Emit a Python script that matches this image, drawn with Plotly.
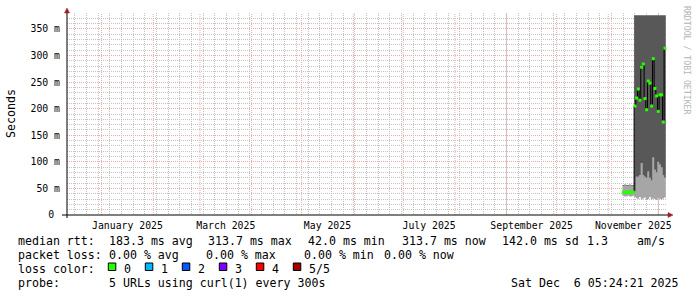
import plotly.graph_objects as go
import pandas as pd

# ---------------- data ----------------
x_start = "2024-12-11 05:24:21"
x_end = "2025-12-06 05:24:21"
step_start = "2025-11-09 12:00"

median_ms = [43, 43, 42, 43, 43, 43, 43,
             205, 220, 237, 216, 278, 284, 219, 198, 252, 248, 205, 294,
             238, 224, 195, 226, 226, 175, 313.7]
smoke_lo = [36, 35, 35, 36, 35, 35, 36,
            34, 32, 30, 34, 29, 31, 33, 28, 30, 34, 29, 31,
            30, 28, 32, 30, 29, 31, 33]
smoke_mid = [55, 56, 55, 55, 56, 55, 55,
             44, 72, 72, 75, 98, 75, 72, 70, 82, 70, 65, 108,
             85, 80, 100, 95, 90, 75, 70]
smoke_hi = [56.5, 57.5, 56.5, 56.5, 57.5, 56.5, 56.5,
            376, 376, 376, 376, 376, 376, 376, 376, 376, 376, 376, 376,
            376, 376, 376, 376, 376, 376, 376]

y_tickvals = [0, 50, 100, 150, 200, 250, 300, 350]
y_ticktext = ["0\u00a0", "50 m", "100 m", "150 m", "200 m", "250 m", "300 m", "350 m"]

label_months = ["2025-01", "2025-03", "2025-05", "2025-07", "2025-09", "2025-11"]
label_text = ["January 2025", "March 2025", "May 2025", "July 2025",
              "September 2025", "November 2025"]
grid_months = pd.date_range("2025-01-01", "2025-12-01", freq="MS")

loss_labels = ["0", "1", "2", "3", "4", "5/5"]
loss_colors = ["#26ff00", "#00b8ff", "#0059ff", "#7e00ff", "#ff0000", "#a10000"]

legend_rtt = ["median rtt:", "183.3 ms avg", "313.7 ms max", "42.0 ms min",
              "313.7 ms now", "142.0 ms sd", "1.3", "am/s"]
legend_rtt_x = [16, 107, 206, 306, 400, 500, 585, 635]
legend_loss = ["packet loss:", "0.00 % avg", "0.00 % max", "0.00 % min", "0.00 % now"]
legend_loss_x = [16, 107, 204, 302, 382]
probe_text = "5 URLs using curl(1) every 300s"
date_text = "Sat Dec  6 05:24:21 2025"

# ---------------- geometry helpers ----------------
L, R, T, B = 67, 30, 13, 82
W, H = 697, 297
PW, PH = W - L - R, H - T - B


def px(x):
    return (x - L) / PW


def py(y):
    return (H - B - y) / PH


MONO = "DejaVu Sans Mono"

n = len(median_ms)
steps = pd.date_range(step_start, periods=n + 1, freq="D")
mids = steps[:-1] + pd.Timedelta(hours=12)


def ext(v):
    return list(v) + [v[-1]]


fig = go.Figure()
fig.add_trace(go.Scatter(x=steps, y=ext(smoke_lo), mode="lines", line=dict(width=0, shape="hv"),
                         hoverinfo="skip", showlegend=False))
fig.add_trace(go.Scatter(x=steps, y=ext(smoke_mid), mode="lines", line=dict(width=0, shape="hv"),
                         fill="tonexty", fillcolor="#a6a6a6", hoverinfo="skip", showlegend=False))
fig.add_trace(go.Scatter(x=steps, y=ext(smoke_hi), mode="lines", line=dict(width=0, shape="hv"),
                         fill="tonexty", fillcolor="#585858", hoverinfo="skip", showlegend=False))
fig.add_trace(go.Scatter(x=steps, y=ext(median_ms), mode="lines",
                         line=dict(width=1, color="#000000", shape="hv"), showlegend=False))
fig.add_trace(go.Scatter(x=mids, y=median_ms, mode="markers",
                         marker=dict(symbol="square", size=3, color=loss_colors[0], line=dict(width=0)),
                         showlegend=False))

shapes = []
for m in grid_months:
    shapes.append(dict(type="line", xref="x", yref="paper", x0=m, x1=m, y0=0, y1=1,
                       line=dict(color="#eeaaaa", width=1, dash="1px,1px"), layer="below"))
# axis lines
shapes.append(dict(type="line", xref="paper", yref="paper", x0=px(67), x1=px(67), y0=py(218), y1=py(10),
                   line=dict(color="#000000", width=1)))
shapes.append(dict(type="line", xref="paper", yref="paper", x0=px(62), x1=px(670), y0=py(215), y1=py(215),
                   line=dict(color="#000000", width=1)))
# arrows
arrow_col = "#a01e1e"
shapes.append(dict(type="path", xref="paper", yref="paper",
                   path=f"M {px(64.5)} {py(13)} L {px(69.5)} {py(13)} L {px(67)} {py(8)} Z",
                   fillcolor=arrow_col, line=dict(color=arrow_col, width=0.5)))
shapes.append(dict(type="path", xref="paper", yref="paper",
                   path=f"M {px(668)} {py(212.5)} L {px(668)} {py(217.5)} L {px(673)} {py(215)} Z",
                   fillcolor=arrow_col, line=dict(color=arrow_col, width=0.5)))

annotations = []


def ann(x, y, text, size=11.6, color="#000000", xanchor="left", angle=0):
    annotations.append(dict(xref="paper", yref="paper", x=px(x), y=py(y), text=text, showarrow=False,
                            xanchor=xanchor, yanchor="middle", textangle=angle,
                            font=dict(family=MONO, size=size, color=color)))


for t, x in zip(legend_rtt, legend_rtt_x):
    ann(x, 241, t)
for t, x in zip(legend_loss, legend_loss_x):
    ann(x, 255, t)
ann(16, 269, "loss color:")
for i, (lab, col) in enumerate(zip(loss_labels, loss_colors)):
    bx = 108.3 + i * 37
    shapes.append(dict(type="rect", xref="paper", yref="paper", x0=px(bx), x1=px(bx + 7.5),
                       y0=py(270.5), y1=py(263), fillcolor=col, line=dict(color="#000000", width=1)))
    ann(bx + 14, 269, lab)
ann(16, 283, "probe:")
ann(107, 283, probe_text)
ann(681, 283, date_text, xanchor="right")
ann(11, 114, "Seconds", xanchor="center", angle=-90)
ann(687, 60, "RRDTOOL / TOBI OETIKER", size=8.2, color="#b4b4b4", xanchor="center", angle=90)

label_pos = []
for lm in label_months:
    s = pd.Timestamp(lm + "-01")
    e = s + pd.offsets.MonthBegin(1)
    label_pos.append(s + (e - s) / 2)

fig.update_layout(
    width=W, height=H, margin=dict(l=L, r=R, t=T, b=B),
    paper_bgcolor="#ffffff", plot_bgcolor="#ffffff",
    shapes=shapes, annotations=annotations,
    xaxis=dict(type="date", range=[x_start, x_end], tickmode="array", tickvals=label_pos,
               ticktext=label_text, showgrid=False, zeroline=False, showline=False, ticks="",
               tickfont=dict(family=MONO, size=9.8, color="#000000"), ticklabelstandoff=3,
               minor=dict(dtick=7 * 86400000, tick0="2024-12-16", showgrid=True,
                          gridcolor="#c4c4c4", griddash="1px,1px", gridwidth=1, ticks="")),
    yaxis=dict(range=[0, 380], tickmode="array", tickvals=y_tickvals, ticktext=y_ticktext,
               showgrid=True, gridcolor="#eeaaaa", griddash="1px,1px", gridwidth=1,
               zeroline=False, showline=False, ticks="",
               tickfont=dict(family=MONO, size=9.8, color="#000000"), ticklabelstandoff=6,
               minor=dict(dtick=10, showgrid=True, gridcolor="#c4c4c4", griddash="1px,1px",
                          gridwidth=1, ticks="")),
)

fig.write_html("out.html")
